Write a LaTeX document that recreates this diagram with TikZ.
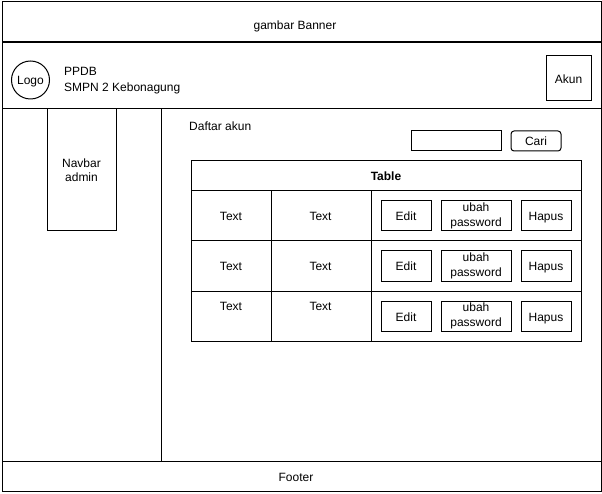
\documentclass[tikz,border=0pt]{standalone}
\usepackage{fontspec}
\setmainfont{Liberation Sans}
\begin{document}
\begin{tikzpicture}[x=1pt,y=-1pt,
  box/.style={draw, line width=1pt, inner sep=0pt, anchor=north west, align=center,
    font=\fontsize{12}{14.4}\selectfont},
  one/.style={text height=10pt, text depth=0pt},
  txt/.style={inner sep=0pt, align=left, font=\fontsize{12}{14.4}\selectfont}]
\useasboundingbox (0,0) rectangle (602,494);
% banner
\node[box, minimum width=599pt, minimum height=41pt] (banner) at (1.5,1.5) {};
\node[txt, one] (bannertxt) at (295,25) {gambar Banner};
% header
\node[box, minimum width=599pt, minimum height=67pt] (header) at (1.5,41.5) {};
\node[draw, line width=1pt, circle, minimum size=38pt, inner sep=0pt, one,
  font=\fontsize{12}{14.4}\selectfont] (logo) at (30.5,80) {Logo};
\node[txt, anchor=west, font=\fontsize{12}{16.5}\selectfont] (ppdb) at (64,80.5) {PPDB\\SMPN 2 Kebonagung};
\node[box, one, minimum width=45pt, minimum height=45pt] (akun) at (545.5,55.5) {Akun};
% sidebar and content
\node[box, minimum width=159pt, minimum height=352pt] (sidebar) at (1.5,108.5) {};
\node[box, minimum width=69pt, minimum height=122pt] (navbar) at (46.5,108.5) {Navbar\\admin};
\node[box, minimum width=440pt, minimum height=352pt] (content) at (160.5,108.5) {};
% footer
\node[box, minimum width=599pt, minimum height=30pt] (footer) at (1.5,460.5) {};
\node[txt, one] (footertxt) at (296,476) {Footer};
% title and search
\node[txt, anchor=west] (daftar) at (189,126) {Daftar akun};
\node[box, minimum width=90pt, minimum height=20pt] (search) at (410.5,130.5) {};
\node[box, one, rounded corners=3pt, minimum width=50pt, minimum height=20pt] (cari) at (510.5,130.5) {Cari};
% table
\node[box, one, minimum width=390pt, minimum height=30pt, font=\fontsize{12}{14.4}\selectfont\bfseries] (thead) at (190.5,160.5) {Table};
\foreach \r/\y in {1/190.5,2/240.5,3/290.5}{
  \node[box, minimum width=80pt, minimum height=50pt] (c\r a) at (190.5,\y) {};
  \node[box, minimum width=100pt, minimum height=50pt] (c\r b) at (270.5,\y) {};
  \node[box, minimum width=210pt, minimum height=50pt] (c\r c) at (370.5,\y) {};
  \node[box, one, minimum width=50pt, minimum height=30pt] (edit\r) at (380.5,\y+10) {Edit};
  \node[box, minimum width=70pt, minimum height=30pt] (ubah\r) at (440.5,\y+10) {ubah\\password};
  \node[box, one, minimum width=50pt, minimum height=30pt] (hapus\r) at (520.5,\y+10) {Hapus};
}
\node[txt, one] (t1a) at (231,215.5) {Text};
\node[txt, one] (t1b) at (320.5,215.5) {Text};
\node[txt, one] (t2a) at (231,265.5) {Text};
\node[txt, one] (t2b) at (320.5,265.5) {Text};
\node[txt, one] (t3a) at (231,305.5) {Text};
\node[txt, one] (t3b) at (320.5,305.5) {Text};
\end{tikzpicture}
\end{document}
